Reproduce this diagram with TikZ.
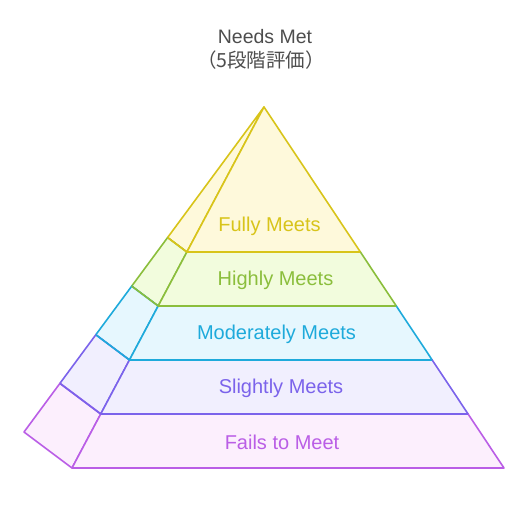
\documentclass[tikz,border=0pt]{standalone}
\usepackage{fontspec}
\setmainfont{Liberation Sans}
\newfontfamily\cjkfont{Noto Sans CJK JP}
\usetikzlibrary{calc}
\definecolor{ylS}{HTML}{D8C41A}\definecolor{ylF}{HTML}{FEF9DB}
\definecolor{grS}{HTML}{8BBE3C}\definecolor{grF}{HTML}{F2FCDD}
\definecolor{cyS}{HTML}{1EAADB}\definecolor{cyF}{HTML}{E6F7FE}
\definecolor{blS}{HTML}{7B63EB}\definecolor{blF}{HTML}{F1EFFE}
\definecolor{puS}{HTML}{BA5EE6}\definecolor{puF}{HTML}{FCEFFD}
\definecolor{titleC}{HTML}{4D4D4D}
\tikzset{
  face/.style={line width=1.6pt, line join=round},
  lab/.style={font=\fontsize{20}{24}\selectfont, inner sep=0pt},
  ttl/.style={font=\fontsize{19.5}{23}\selectfont, text=titleC, inner sep=0pt}
}
\begin{document}
\begin{tikzpicture}[x=1pt,y=-1pt]
\useasboundingbox (0,0) rectangle (528,517);
% key points
\coordinate (A) at (264,107);
\coordinate (FL) at (72,468);
\coordinate (FR) at (504,468);
\coordinate (BK) at (24,432);
\foreach \i/\t in {1/0.4017,2/0.5512,3/0.7008,4/0.8504,5/1}{
  \coordinate (L\i) at ($(A)!\t!(FL)$);
  \coordinate (R\i) at ($(A)!\t!(FR)$);
  \coordinate (B\i) at ($(A)!\t!(BK)$);
}
% level 1 (top)
\filldraw[face, draw=ylS, fill=ylF] (A) -- (B1) -- (L1) -- cycle;
\filldraw[face, draw=ylS, fill=ylF] (A) -- (L1) -- (R1) -- cycle;
% level 2
\filldraw[face, draw=grS, fill=grF] (B1) -- (B2) -- (L2) -- (L1) -- cycle;
\filldraw[face, draw=grS, fill=grF] (L1) -- (L2) -- (R2) -- (R1) -- cycle;
% level 3
\filldraw[face, draw=cyS, fill=cyF] (B2) -- (B3) -- (L3) -- (L2) -- cycle;
\filldraw[face, draw=cyS, fill=cyF] (L2) -- (L3) -- (R3) -- (R2) -- cycle;
% level 4
\filldraw[face, draw=blS, fill=blF] (B3) -- (B4) -- (L4) -- (L3) -- cycle;
\filldraw[face, draw=blS, fill=blF] (L3) -- (L4) -- (R4) -- (R3) -- cycle;
% level 5
\filldraw[face, draw=puS, fill=puF] (B4) -- (B5) -- (L5) -- (L4) -- cycle;
\filldraw[face, draw=puS, fill=puF] (L4) -- (L5) -- (R5) -- (R4) -- cycle;
% redraw top edges so lower levels don't cover upper strokes
\draw[face, draw=ylS] (B1) -- (L1) -- (R1);
\draw[face, draw=grS] (B2) -- (L2) -- (R2);
\draw[face, draw=cyS] (B3) -- (L3) -- (R3);
\draw[face, draw=blS] (B4) -- (L4) -- (R4);
% labels
\node[lab, text=ylS] (t1) at (269.5,226) {Fully Meets};
\node[lab, text=grS] (t2) at (275.5,280) {Highly Meets};
\node[lab, text=cyS] (t3) at (276.5,334) {Moderately Meets};
\node[lab, text=blS] (t4) at (281,388) {Slightly Meets};
\node[lab, text=puS] (t5) at (282,442) {Fails to Meet};
% title
\node[ttl] (title1) at (265,37) {Needs Met};
\node[ttl] (title2) at (261,60) {\cjkfont （5段階評価）};
\end{tikzpicture}
\end{document}
